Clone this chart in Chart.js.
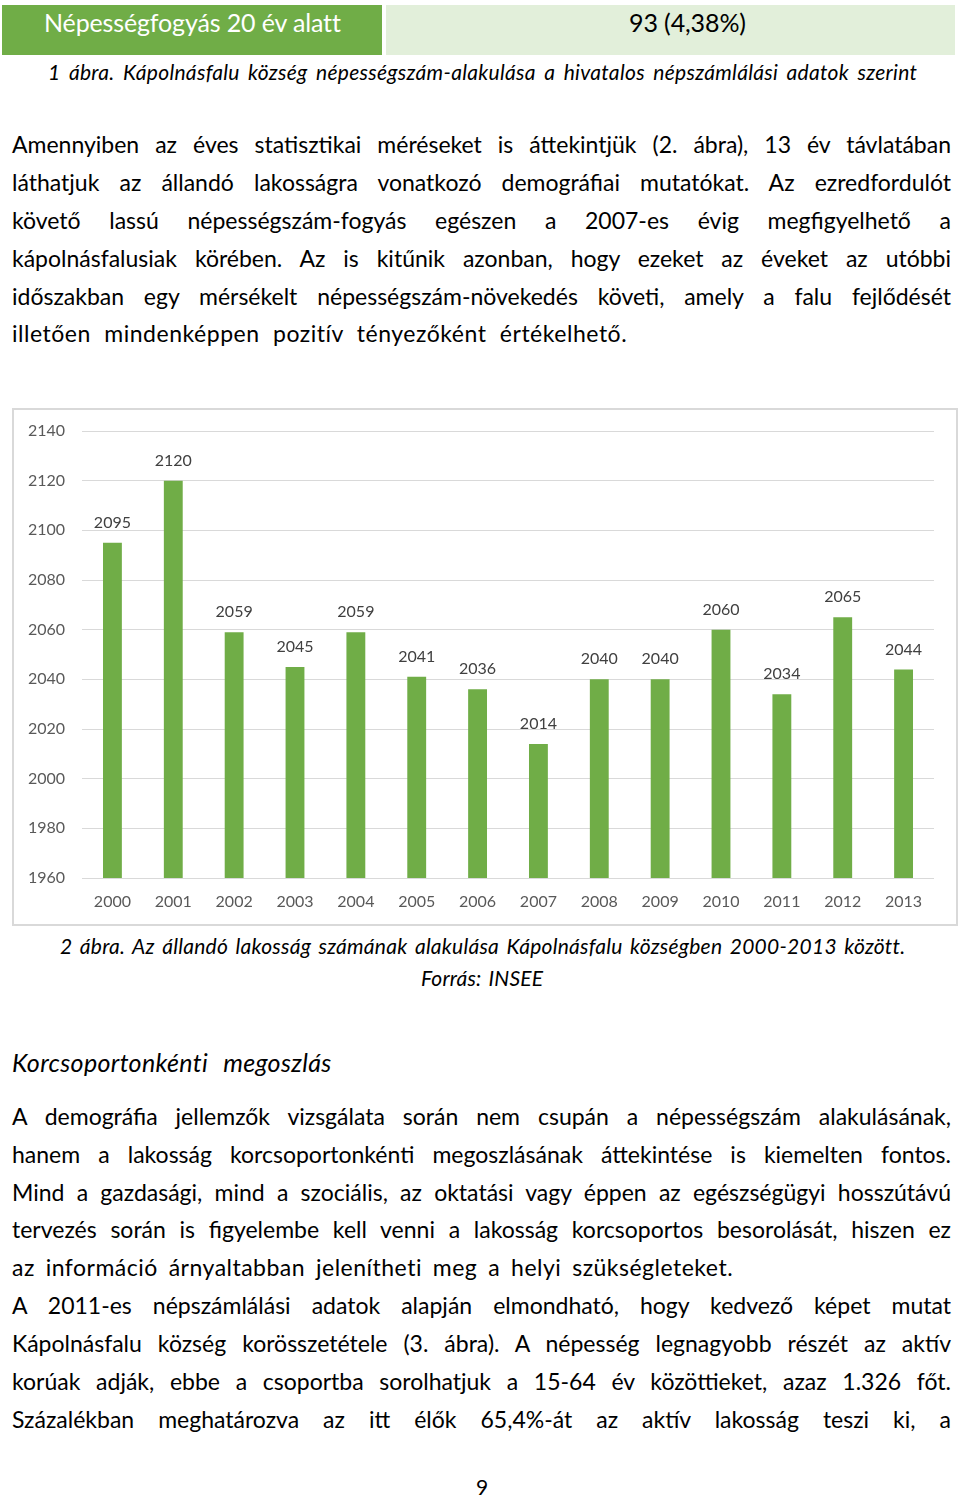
<!DOCTYPE html>
<html>
<head>
<meta charset="utf-8">
<script src="https://cdn.jsdelivr.net/npm/chart.js@4.4.1/dist/chart.umd.min.js"></script>
<style>
  html, body { margin:0; padding:0; background:#fff; }
  body { width:960px; height:1497px; position:relative; overflow:hidden;
         font-family: Lato, "Open Sans", sans-serif; color:#000; }
  .ln { position:absolute; white-space:nowrap; line-height:30px; height:30px; font-size:23px; }
  .it { font-style:italic; }
  #cellA { position:absolute; left:2px; top:5px; width:380px; height:50px; background:#70ad47; }
  #cellB { position:absolute; left:386px; top:5px; width:569px; height:50px; background:#e2efda; }
  #frame { position:absolute; left:12px; top:408px; width:946px; height:518px; box-sizing:border-box; border:2px solid #d9d9d9; }
  #wrap { position:absolute; left:12px; top:408px; width:946px; height:518px; }
</style>
</head>
<body>
<div id="cellA"></div><div id="cellB"></div>
<div id="frame"></div>
<div id="wrap"><canvas id="c"></canvas></div>
<div id="texts"></div>
<script>
// ---- chart data ----
const years = ["2000","2001","2002","2003","2004","2005","2006","2007","2008","2009","2010","2011","2012","2013"];
const population = [2095, 2120, 2059, 2045, 2059, 2041, 2036, 2014, 2040, 2040, 2060, 2034, 2065, 2044];
const yTicksMin = 1960;
const yTicksMax = 2140;
const yTickStep = 20;

// ---- page text lines: [text, x, centerY, targetWidth, mode, size, italic, color] ----
const lines = [
  ["Népességfogyás 20 év alatt", 44, 22, 296, "fit", 25, false, "#fff"],
  ["93 (4,38%)", 629, 22, 117, "fit", 25, false, "#000"],
  ["1 ábra. Kápolnásfalu község népességszám-alakulása a hivatalos népszámlálási adatok szerint", 48, 72, 869, "fit", 21, true, "#000"],
  ["Amennyiben az éves statisztikai méréseket is áttekintjük (2. ábra), 13 év távlatában", 12, 144, 939, "just", 23, false, "#000"],
  ["láthatjuk az állandó lakosságra vonatkozó demográfiai mutatókat. Az ezredfordulót", 12, 182, 939, "just", 23, false, "#000"],
  ["követő lassú népességszám-fogyás egészen a 2007-es évig megfigyelhető a", 12, 220, 939, "just", 23, false, "#000"],
  ["kápolnásfalusiak körében. Az is kitűnik azonban, hogy ezeket az éveket az utóbbi", 12, 258, 939, "just", 23, false, "#000"],
  ["időszakban egy mérsékelt népességszám-növekedés követi, amely a falu fejlődését", 12, 296, 939, "just", 23, false, "#000"],
  ["illetően mindenképpen pozitív tényezőként értékelhető.", 12, 333, 615, "fit", 23, false, "#000"],
  ["2 ábra. Az állandó lakosság számának alakulása Kápolnásfalu községben 2000-2013 között.", 60, 946, 844, "fit", 21, true, "#000"],
  ["Forrás: INSEE", 421, 978, 122, "fit", 21, true, "#000"],
  ["Korcsoportonkénti megoszlás", 12, 1062, 319, "fit", 25, true, "#000"],
  ["A demográfia jellemzők vizsgálata során nem csupán a népességszám alakulásának,", 12, 1116, 939, "just", 23, false, "#000"],
  ["hanem a lakosság korcsoportonkénti megoszlásának áttekintése is kiemelten fontos.", 12, 1154, 939, "just", 23, false, "#000"],
  ["Mind a gazdasági, mind a szociális, az oktatási vagy éppen az egészségügyi hosszútávú", 12, 1192, 939, "just", 23, false, "#000"],
  ["tervezés során is figyelembe kell venni a lakosság korcsoportos besorolását, hiszen ez", 12, 1229, 939, "just", 23, false, "#000"],
  ["az információ árnyaltabban jelenítheti meg a helyi szükségleteket.", 12, 1267, 721, "fit", 23, false, "#000"],
  ["A 2011-es népszámlálási adatok alapján elmondható, hogy kedvező képet mutat", 12, 1305, 939, "just", 23, false, "#000"],
  ["Kápolnásfalu község korösszetétele (3. ábra). A népesség legnagyobb részét az aktív", 12, 1343, 939, "just", 23, false, "#000"],
  ["korúak adják, ebbe a csoportba sorolhatjuk a 15-64 év közöttieket, azaz 1.326 főt.", 12, 1381, 939, "just", 23, false, "#000"],
  ["Százalékban meghatározva az itt élők 65,4%-át az aktív lakosság teszi ki, a", 12, 1419, 939, "just", 23, false, "#000"],
  ["9", 476, 1487, 12, "fit", 21, false, "#000"]
];

const host = document.getElementById('texts');
lines.forEach(([t, x, cy, w, mode, size, it, col]) => {
  const d = document.createElement('div');
  d.className = 'ln' + (it ? ' it' : '');
  d.textContent = t;
  d.style.left = x + 'px';
  d.style.top = (cy - 15) + 'px';
  d.style.fontSize = size + 'px';
  d.style.color = col;
  host.appendChild(d);
  const nat = d.getBoundingClientRect().width;
  const diff = w - nat;
  const spaces = (t.match(/ /g) || []).length;
  if (mode === 'just' && diff >= 0 && spaces > 0) {
    d.style.wordSpacing = (diff / spaces) + 'px';
  } else if (t.length > 1) {
    if (spaces > 0 && diff > 0) {
      const ls = (diff * 0.5) / (t.length - 1);
      d.style.letterSpacing = ls + 'px';
      d.style.wordSpacing = ((diff * 0.5) / spaces) + 'px';
    } else {
      d.style.letterSpacing = (diff / (t.length - 1)) + 'px';
    }
  }
});

// ---- chart ----
const FONT = 'Lato, "Open Sans", sans-serif';
const labelPlugin = {
  id: 'barLabels',
  afterDatasetsDraw(chart) {
    const ctx = chart.ctx;
    const meta = chart.getDatasetMeta(0);
    ctx.save();
    ctx.font = '16px ' + FONT;
    ctx.fillStyle = '#404040';
    ctx.textAlign = 'center';
    ctx.textBaseline = 'middle';
    meta.data.forEach((bar, i) => {
      ctx.fillText(String(chart.data.datasets[0].data[i]), bar.x, bar.y - 20);
    });
    ctx.restore();
  }
};

new Chart(document.getElementById('c'), {
  type: 'bar',
  data: {
    labels: years,
    datasets: [{
      data: population,
      backgroundColor: '#70ad47',
      borderWidth: 0,
      barPercentage: 0.31,
      categoryPercentage: 1.0
    }]
  },
  options: {
    responsive: true,
    maintainAspectRatio: false,
    animation: false,
    events: [],
    layout: { padding: { left: 0, right: 24, top: 23, bottom: 0 } },
    plugins: { legend: { display: false }, tooltip: { enabled: false }, title: { display: false } },
    scales: {
      x: {
        grid: { display: false },
        border: { display: false },
        ticks: {
          color: '#595959', padding: 6,
          font: { family: FONT, size: 16 }
        },
        afterFit(axis) { axis.height = 48; axis.paddingLeft = 0; axis.paddingRight = 0; }
      },
      y: {
        min: yTicksMin, max: yTicksMax,
        grid: { color: '#d9d9d9', lineWidth: 1, drawTicks: false },
        border: { display: false },
        ticks: {
          stepSize: yTickStep, color: '#595959', padding: 17,
          font: { family: FONT, size: 16 },
          callback: (v) => String(v)
        },
        afterFit(axis) { axis.width = 70; axis.paddingTop = 0; axis.paddingBottom = 0; }
      }
    }
  },
  plugins: [labelPlugin]
});
</script>
</body>
</html>
